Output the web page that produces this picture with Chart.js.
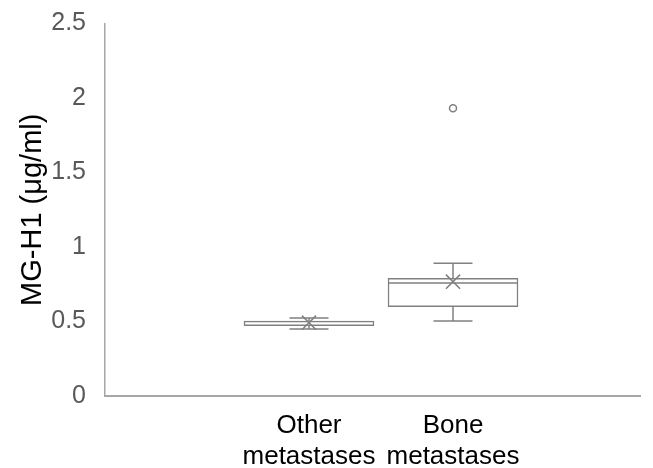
<!DOCTYPE html>
<html>
<head>
<meta charset="utf-8">
<script src="https://cdn.jsdelivr.net/npm/chart.js@4/dist/chart.umd.min.js"></script>
<style>
html,body{margin:0;padding:0;background:#fff;}
#wrap{width:653px;height:468px;position:relative;}
</style>
</head>
<body>
<div id="wrap"><canvas id="c" width="653" height="468"></canvas></div>
<script>
// ---- data ----
const categories = [["Other", "metastases"], ["Bone", "metastases"]];
const catPos = [0, 1];
const whiskerMin = [0.450, 0.503];
const q1 = [0.472, 0.599];
const median = [0.490, 0.758];
const q3 = [0.503, 0.790];
const whiskerMax = [0.523, 0.891];
const means = [0.492, 0.767];
const outliers = [{cat: 1, value: 1.931}];
const yTicks = [0, 0.5, 1, 1.5, 2, 2.5];

const GRAY = '#808080';
const FONT = '"Liberation Sans", Arial, sans-serif';

const boxData = catPos.map((p, i) => ({x: p, y: [q1[i], q3[i]]}));
const meanData = catPos.map((p, i) => ({x: p, y: means[i]}));
const outData = outliers.map(o => ({x: catPos[o.cat], y: o.value}));

const whiskerPlugin = {
  id: 'whiskers',
  afterDatasetsDraw(chart) {
    const {ctx, scales: {x, y}} = chart;
    ctx.save();
    ctx.strokeStyle = GRAY;
    ctx.lineWidth = 1.5;
    const capHalf = 19.5, boxHalf = 65;
    catPos.forEach((p, i) => {
      const cx = x.getPixelForValue(p);
      const yMax = y.getPixelForValue(whiskerMax[i]);
      const yMin = y.getPixelForValue(whiskerMin[i]);
      const yQ1 = y.getPixelForValue(q1[i]);
      const yQ3 = y.getPixelForValue(q3[i]);
      const yMed = y.getPixelForValue(median[i]);
      ctx.beginPath();
      ctx.moveTo(cx, yQ3); ctx.lineTo(cx, yMax);
      ctx.moveTo(cx - capHalf, yMax); ctx.lineTo(cx + capHalf, yMax);
      ctx.moveTo(cx, yQ1); ctx.lineTo(cx, yMin);
      ctx.moveTo(cx - capHalf, yMin); ctx.lineTo(cx + capHalf, yMin);
      if (i === 1) { ctx.moveTo(cx - boxHalf, yMed); ctx.lineTo(cx + boxHalf, yMed); }
      ctx.stroke();
    });
    ctx.restore();
  }
};

new Chart(document.getElementById('c'), {
  type: 'bar',
  data: {
    datasets: [
      {
        label: 'box',
        data: boxData,
        backgroundColor: '#ffffff',
        borderColor: GRAY,
        borderWidth: 1.5,
        borderSkipped: false,
        barThickness: 130,
        order: 3
      },
      {
        type: 'scatter',
        label: 'mean',
        data: meanData,
        pointStyle: 'crossRot',
        pointRadius: 10,
        borderColor: GRAY,
        borderWidth: 1.5,
        order: 1
      },
      {
        type: 'scatter',
        label: 'outliers',
        data: outData,
        pointStyle: 'circle',
        pointRadius: 3.5,
        backgroundColor: '#ffffff',
        borderColor: GRAY,
        borderWidth: 1.5,
        order: 2
      }
    ]
  },
  options: {
    responsive: false,
    animation: false,
    events: [],
    layout: {padding: {top: 23.5, right: 13, left: 0, bottom: 0}},
    plugins: {legend: {display: false}, tooltip: {enabled: false}},
    scales: {
      x: {
        type: 'linear',
        offset: false,
        min: -1.4167,
        max: 2.2986,
        grid: {display: false},
        border: {display: true, color: '#a6a6a6', width: 2},
        afterBuildTicks: s => { s.ticks = catPos.map(v => ({value: v})); },
        afterFit: s => { s.height = 72; s.paddingLeft = 0; s.paddingRight = 0; },
        ticks: {
          color: '#000000',
          padding: 6,
          maxRotation: 0,
          autoSkip: false,
          font: {family: FONT, size: 26, lineHeight: 1.2},
          callback: v => {
            const i = catPos.indexOf(v);
            return i >= 0 ? categories[i] : '';
          }
        }
      },
      y: {
        min: 0,
        max: 2.5,
        grid: {display: false},
        border: {display: true, color: '#a6a6a6', width: 1.5},
        afterBuildTicks: s => { s.ticks = yTicks.map(v => ({value: v})); },
        afterFit: s => { s.width = 105; s.paddingTop = 0; s.paddingBottom = 0; },
        ticks: {
          color: '#595959',
          padding: 11,
          font: {family: FONT, size: 25},
          callback: v => String(v)
        },
        title: {
          display: true,
          text: 'MG-H1 (μg/ml)',
          color: '#000000',
          font: {family: FONT, size: 29},
          padding: {top: 16, bottom: 0}
        }
      }
    }
  },
  plugins: [whiskerPlugin]
});
</script>
</body>
</html>
